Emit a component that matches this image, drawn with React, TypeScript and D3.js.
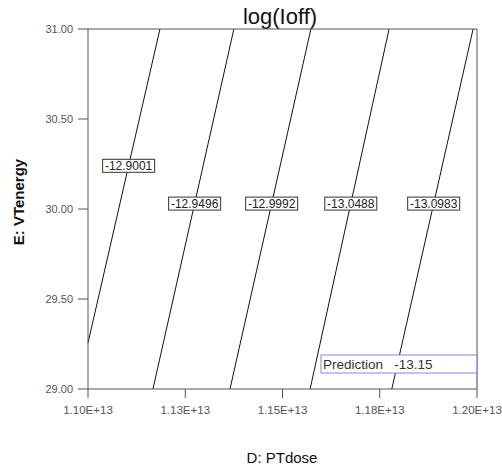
import React from 'react';
import * as d3 from 'd3';

// contour levels of log(Ioff) and the two ends of each line (PTdose, VTenergy)
const levels = ['-12.9001', '-12.9496', '-12.9992', '-13.0488', '-13.0983'];
const contourLines: [number, number][][] = [
  [[1.1185e13, 31.0], [1.1000e13, 29.256]],
  [[1.1375e13, 31.0], [1.1167e13, 29.0]],
  [[1.1573e13, 31.0], [1.1365e13, 29.0]],
  [[1.1774e13, 31.0], [1.1571e13, 29.0]],
  [[1.1990e13, 31.0], [1.1781e13, 29.0]],
];
// VTenergy at which each contour label sits
const labelEnergy = [30.24, 30.03, 30.03, 30.03, 30.03];

const xTicks = [1.1e13, 1.125e13, 1.15e13, 1.175e13, 1.2e13];
const xTickLabels = ['1.10E+13', '1.13E+13', '1.15E+13', '1.18E+13', '1.20E+13'];
const yTicks = [29.0, 29.5, 30.0, 30.5, 31.0];
const yTickLabels = ['29.00', '29.50', '30.00', '30.50', '31.00'];

const prediction = '-13.15';

const App: React.FC = () => {
  const width = 502;
  const height = 470;
  const margin = { top: 29, right: 25, bottom: 81, left: 88 };

  const x = d3.scaleLinear().domain([1.1e13, 1.2e13]).range([margin.left, width - margin.right]);
  const y = d3.scaleLinear().domain([29, 31]).range([height - margin.bottom, margin.top]);

  const line = d3.line<[number, number]>()
    .x(d => x(d[0]))
    .y(d => y(d[1]));

  // position on a contour line at a given energy
  const xAt = (pts: [number, number][], e: number) => {
    const [a, b] = pts;
    const t = (e - a[1]) / (b[1] - a[1]);
    return a[0] + t * (b[0] - a[0]);
  };

  const font = '"Liberation Sans", Arial, sans-serif';
  const x0 = margin.left;
  const x1 = width - margin.right;
  const y0 = height - margin.bottom;
  const y1 = margin.top;

  return (
    <svg width={width} height={height} style={{ position: 'absolute', left: 0, top: 0, background: '#fff' }}>
      <text x={280} y={24} textAnchor="middle" fontFamily={font} fontSize={22} fill="#111">
        log(Ioff)
      </text>

      {/* contours */}
      {contourLines.map((pts, i) => (
        <path key={i} d={line(pts) || ''} fill="none" stroke="#111" strokeWidth={1} />
      ))}

      {/* frame */}
      <line x1={x0} x2={x1} y1={y1} y2={y1} stroke="#555" strokeWidth={1} />
      <line x1={x1} x2={x1} y1={y1} y2={y0} stroke="#555" strokeWidth={1} />
      <line x1={x0} x2={x0} y1={y1} y2={y0} stroke="#555" strokeWidth={1} />
      <line x1={x0} x2={x1} y1={y0} y2={y0} stroke="#555" strokeWidth={1} />

      {/* y axis */}
      {yTicks.map((t, i) => (
        <g key={t}>
          <line x1={x0 - 10} x2={x0} y1={y(t)} y2={y(t)} stroke="#555" />
          <text x={x0 - 15} y={y(t) + 4} textAnchor="end" fontFamily={font} fontSize={11} fill="#555">
            {yTickLabels[i]}
          </text>
        </g>
      ))}

      {/* x axis */}
      {xTicks.map((t, i) => (
        <g key={t}>
          <line x1={x(t)} x2={x(t)} y1={y0} y2={y0 + 9} stroke="#555" />
          <text x={x(t)} y={y0 + 25} textAnchor="middle" fontFamily={font} fontSize={11.5} fill="#555">
            {xTickLabels[i]}
          </text>
        </g>
      ))}

      {/* contour labels */}
      {levels.map((lv, i) => {
        const cx = x(xAt(contourLines[i], labelEnergy[i]));
        const cy = y(labelEnergy[i]);
        return (
          <g key={lv}>
            <rect x={cx - 26} y={cy - 6.5} width={52} height={13} fill="#fff" stroke="#333" strokeWidth={1} />
            <text x={cx} y={cy + 4.5} textAnchor="middle" fontFamily={font} fontSize={12} fill="#222">
              {lv}
            </text>
          </g>
        );
      })}

      {/* prediction box */}
      <rect x={321} y={355} width={x1 - 321} height={18} fill="#fff" stroke="#8a8ad8" strokeWidth={1} />
      <line x1={x1} x2={x1} y1={355} y2={y0} stroke="#8a8ad8" strokeWidth={1} />
      <text x={323} y={369} fontFamily={font} fontSize={13.5} fill="#333" style={{ whiteSpace: 'pre' }}>
        {`Prediction   ${prediction}`}
      </text>

      {/* axis titles */}
      <text
        transform="translate(24,202) rotate(-90)"
        textAnchor="middle"
        fontFamily={font}
        fontSize={15}
        fontWeight="bold"
        fill="#111"
      >
        E: VTenergy
      </text>
      <text x={282} y={463} textAnchor="middle" fontFamily={font} fontSize={15} fill="#111">
        D: PTdose
      </text>
    </svg>
  );
};

export default App;
